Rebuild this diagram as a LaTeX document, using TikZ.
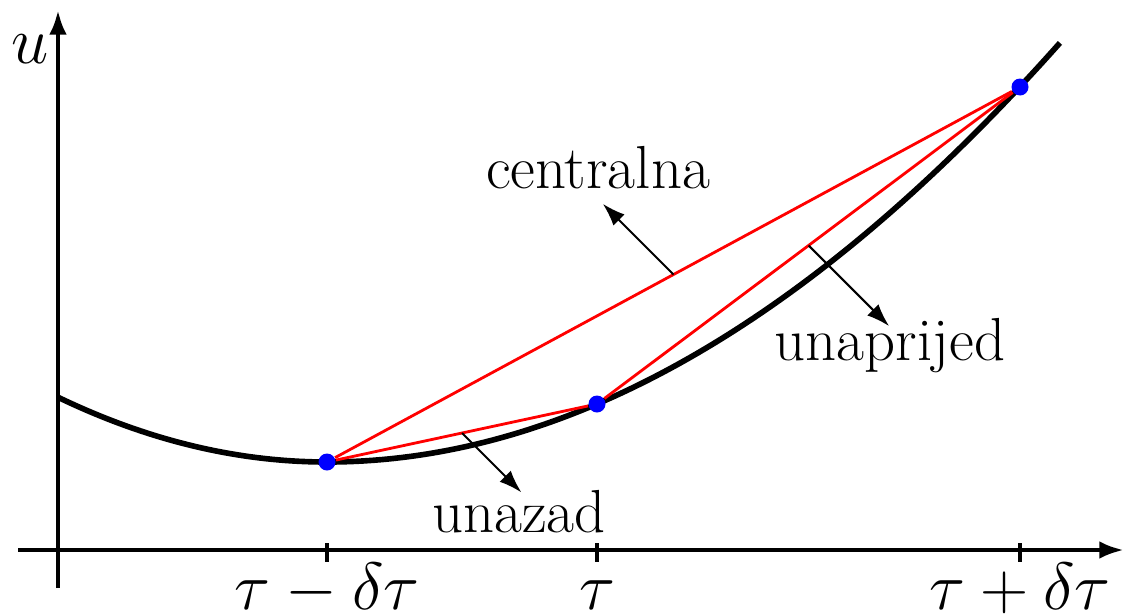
\RequirePackage{fix-cm}
\documentclass[tikz,border=0pt]{standalone}
\usetikzlibrary{arrows.meta, calc}

\begin{document}
\begin{tikzpicture}[
        axis/.style={line width=1.3pt, -{Latex[length=7pt, width=5pt]}},
        tickmark/.style={line width=1.2pt},
        pt/.style={circle, fill=blue, draw=none, inner sep=0pt, minimum size=1.7mm},
        chord/.style={red, line width=0.8pt},
        note/.style={line width=0.6pt, -{Latex[length=6.5pt, width=4.5pt]}},
        lbl/.style={anchor=base, font=\fontsize{17.3}{20}\selectfont},
        mlbl/.style={anchor=base, inner sep=0pt, text depth=0pt, font=\fontsize{19}{22}\selectfont},
      ]
      \useasboundingbox (-0.58,-0.64) rectangle (10.66,5.50);
      % axes
      \draw[axis] (-0.40,0) -- (10.66,0);
      \draw[axis] (0,-0.38) -- (0,5.40);
      \node[mlbl] (u) at (-0.28,4.87) {$u$};
      % function
      \draw[line width=1.6pt] plot[domain=0:2.69, samples=40] (\x,{0.88+0.0895*(\x-2.69)^2})
        -- plot[domain=2.69:10.02, samples=80] (\x,{0.88+0.0806*(\x-2.69)^2-0.000354*(\x-2.69)^3});
      % ticks and labels
      \draw[tickmark] (2.69,0.07) -- (2.69,-0.12);
      \draw[tickmark] (5.39,0.07) -- (5.39,-0.12);
      \draw[tickmark] (9.62,0.07) -- (9.62,-0.12);
      \node[mlbl] (tm) at (2.69,-0.59) {$\tau-\delta\tau$};
      \node[mlbl] (t) at (5.39,-0.59) {$\tau$};
      \node[mlbl] (tp) at (9.62,-0.59) {$\tau+\delta\tau$};
      % points and chords
      \node[pt] (A) at (2.69,0.88) {};
      \node[pt] (B) at (5.39,1.46) {};
      \node[pt] (C) at (9.62,4.63) {};
      \draw[chord] (A) -- (B);
      \draw[chord] (B) -- (C);
      \draw[chord] (A) -- (C);
      % annotations
      \coordinate (mAB) at ($(A)!0.5!(B)$);
      \coordinate (mBC) at ($(B)!0.5!(C)$);
      \coordinate (mAC) at ($(A)!0.5!(C)$);
      \coordinate (hAB) at ($(mAB)+(-45:0.84)$);
      \coordinate (hBC) at ($(mBC)+(-45:1.14)$);
      \coordinate (hAC) at ($(mAC)+(135:1.0)$);
      \draw[note] (mAB) -- (hAB);
      \draw[note] (mBC) -- (hBC);
      \draw[note] (mAC) -- (hAC);
      \node[lbl] (back) at (4.61,0.18) {unazad};
      \node[lbl] (fwd) at (8.32,1.90) {unaprijed};
      \node[lbl] (cen) at (5.40,3.62) {centralna};
    \end{tikzpicture}
\end{document}
